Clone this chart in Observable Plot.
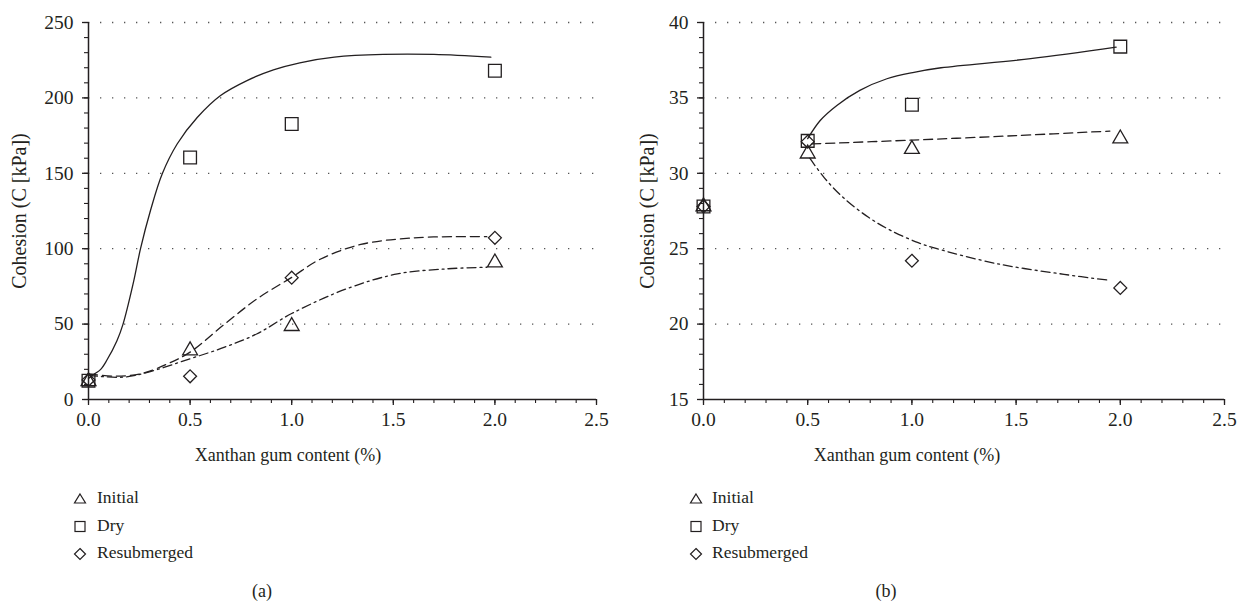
<!DOCTYPE html>
<html><head><meta charset="utf-8">
<script src="https://cdn.jsdelivr.net/npm/d3@7"></script>
<script src="https://cdn.jsdelivr.net/npm/@observablehq/plot@0.6"></script>
<style>
body{margin:0;background:#fff;font-family:"Liberation Serif","Times New Roman","DejaVu Serif",serif;color:#231f20;}
#wrap{position:relative;width:1245px;height:603px;overflow:hidden;background:#fff}
.panel{position:absolute;top:0}
.panel svg{display:block;overflow:visible}
.lbl{position:absolute;white-space:nowrap;font-size:18px;transform:translate(-50%,-50%);line-height:normal}
.ylbl{position:absolute;white-space:nowrap;font-size:20px;transform:translate(-50%,-50%) rotate(-90deg);line-height:normal}
.legtxt{position:absolute;white-space:nowrap;font-size:17.5px;line-height:normal}
.legsym{position:absolute;width:14px;height:14px}
</style></head>
<body><div id="wrap"></div>
<script>
// ---- data ----
const seriesNames = ["Initial", "Dry", "Resubmerged"];
const xContent = [0, 0.5, 1.0, 2.0];
const xTickLabels = [0, 0.5, 1.0, 1.5, 2.0, 2.5];

// panel (a)
const aInitial = [12, 32.5, 48.6, 90.8];
const aDry = [12.5, 160.5, 182.7, 218];
const aResub = [13, 15.4, 80.8, 107.2];
const aYTicks = [0, 50, 100, 150, 200, 250];
const aDryFitX = [0, 0.03, 0.06, 0.09, 0.14, 0.17, 0.22, 0.256, 0.305, 0.363, 0.437, 0.535, 0.65, 0.78, 0.91, 1.04, 1.21, 1.45, 1.7, 1.98];
const aDryFitY = [14, 17, 20, 26, 39, 50, 77, 100, 125.3, 149.7, 169.6, 187, 201.6, 211.5, 218.6, 223.3, 227, 228.8, 228.8, 227];
const aResubFitX = [0, 0.125, 0.256, 0.39, 0.5, 0.67, 0.83, 1.0, 1.14, 1.34, 1.6, 1.87, 1.96];
const aResubFitY = [17, 15.5, 17, 23.7, 31.4, 50, 66.8, 81, 93, 102.8, 107.2, 108, 108];
const aInitialFitX = [0, 0.17, 0.29, 0.5, 0.67, 0.83, 1.0, 1.27, 1.52, 1.77, 1.96];
const aInitialFitY = [16, 14.8, 18, 27, 34.7, 43.6, 57, 73.4, 83.3, 86.7, 87.7];

// panel (b)
const bInitial = [27.8, 31.3, 31.6, 32.3];
const bDry = [27.8, 32.15, 34.55, 38.4];
const bResub = [27.8, 32.1, 24.2, 22.4];
const bYTicks = [15, 20, 25, 30, 35, 40];
const bDryFitX = [0.5, 0.56, 0.64, 0.75, 0.88, 1.01, 1.14, 1.57, 1.98];
const bDryFitY = [32.3, 33.5, 34.5, 35.5, 36.27, 36.7, 37.0, 37.6, 38.36];
const bInitialFitX = [0.52, 1.0, 1.5, 1.95];
const bInitialFitY = [31.95, 32.2, 32.5, 32.8];
const bResubFitX = [0.51, 0.58, 0.67, 0.79, 0.9, 1.03, 1.12, 1.41, 1.73, 1.95];
const bResubFitY = [31.0, 29.7, 28.4, 27.1, 26.2, 25.4, 25.0, 24.0, 23.3, 22.9];

// ---- drawing ----
const ink = "#231f20";
const FONT = '"Liberation Serif", "Times New Roman", "DejaVu Serif", serif';
const zip = (xs, ys) => xs.map((x, i) => ({x, y: ys[i]}));
const DASH = "9,5", DASHDOT = "9,4,2,4";

function panel(o) {
  const [y0, y1] = o.yDomain;
  const yStep = (o.yMajor[1] - o.yMajor[0]) / 5;
  const dot = (vals, symbol, r) => Plot.dot(zip(xContent, vals), {x: "x", y: "y", symbol, r, stroke: ink, strokeWidth: 1.3, fill: "none"});
  const line = (fx, fy, dash) => Plot.line(zip(fx, fy), {x: "x", y: "y", curve: "catmull-rom", stroke: ink, strokeWidth: 1.3, strokeDasharray: dash});
  return Plot.plot({
    width: o.width, height: 440,
    marginTop: 22, marginBottom: 41, marginLeft: o.marginLeft, marginRight: o.marginRight,
    x: {domain: [0, 2.5]},
    y: {domain: o.yDomain},
    style: {fontFamily: FONT, fontSize: "19.5px", color: ink, background: "white"},
    marks: [
      Plot.ruleY(o.yMajor.slice(1), {x1: 0, x2: 2.5, stroke: "#555", strokeWidth: 1.3, strokeDasharray: "1.3,10.7"}),
      Plot.axisY({ticks: o.yMajor, tickSize: 6, tickPadding: 9, tickFormat: d3.format("d"), label: null, strokeWidth: 1.3, fontFamily: FONT}),
      Plot.axisY({ticks: d3.range(y0, y1 + 0.001, yStep), tickSize: 4, tickFormat: () => "", label: null, strokeWidth: 1.1}),
      Plot.axisX({ticks: xTickLabels, tickSize: 6, tickPadding: 7, tickFormat: d3.format(".1f"), label: null, strokeWidth: 1.3, fontFamily: FONT}),
      Plot.axisX({ticks: d3.range(0, 2.501, 0.1), tickSize: 4, tickFormat: () => "", label: null, strokeWidth: 1.1}),
      Plot.ruleX([0], {y1: y0, y2: y1, stroke: ink, strokeWidth: 1.5}),
      Plot.ruleY([y0], {x1: 0, x2: 2.5, stroke: ink, strokeWidth: 1.5}),
      ...o.fits.map(f => line(f[0], f[1], f[2])),
      dot(o.initial, "triangle2", 7.1),
      dot(o.dry, "square2", 8.1),
      dot(o.resub, "diamond2", 5.8)
    ]
  });
}

const wrap = document.getElementById("wrap");

function addPanel(left, width, opts) {
  const d = document.createElement("div");
  d.className = "panel";
  d.style.left = left + "px";
  d.appendChild(panel({width, ...opts}));
  wrap.appendChild(d);
}

addPanel(0, 620, {
  marginLeft: 88, marginRight: 24, yDomain: [0, 250], yMajor: aYTicks,
  initial: aInitial, dry: aDry, resub: aResub,
  fits: [[aDryFitX, aDryFitY, null], [aResubFitX, aResubFitY, DASH], [aInitialFitX, aInitialFitY, DASHDOT]]
});
addPanel(620, 625, {
  marginLeft: 83, marginRight: 21, yDomain: [15, 40], yMajor: bYTicks,
  initial: bInitial, dry: bDry, resub: bResub,
  fits: [[bDryFitX, bDryFitY, null], [bInitialFitX, bInitialFitY, DASH], [bResubFitX, bResubFitY, DASHDOT]]
});

function addText(cls, text, x, y) {
  const e = document.createElement("div");
  e.className = cls; e.textContent = text;
  e.style.left = x + "px"; e.style.top = y + "px";
  wrap.appendChild(e);
}
addText("ylbl", "Cohesion (C [kPa])", 19, 211);
addText("ylbl", "Cohesion (C [kPa])", 647, 211);
addText("lbl", "Xanthan gum content (%)", 288, 455);
addText("lbl", "Xanthan gum content (%)", 907, 455);
addText("lbl", "(a)", 262, 591);
addText("lbl", "(b)", 886, 591);

const legSymbols = {
  Initial: '<polygon points="7,2 12.5,11 1.5,11" fill="none" stroke="' + ink + '" stroke-width="1.2"/>',
  Dry: '<rect x="2" y="2.5" width="10" height="10" fill="none" stroke="' + ink + '" stroke-width="1.2"/>',
  Resubmerged: '<polygon points="7,1.5 12.5,7 7,12.5 1.5,7" fill="none" stroke="' + ink + '" stroke-width="1.2"/>'
};
const legRows = [497, 524.5, 552];
function addLegend(symX, textX) {
  seriesNames.forEach((name, i) => {
    const s = document.createElementNS("http://www.w3.org/2000/svg", "svg");
    s.setAttribute("class", "legsym");
    s.setAttribute("viewBox", "0 0 14 14");
    s.style.left = (symX - 7) + "px";
    s.style.top = (legRows[i] + 1.5 - 7) + "px";
    s.innerHTML = legSymbols[name];
    wrap.appendChild(s);
    const t = document.createElement("div");
    t.className = "legtxt"; t.textContent = name;
    t.style.left = textX + "px"; t.style.top = (legRows[i] - 9.8) + "px";
    wrap.appendChild(t);
  });
}
addLegend(79.5, 97);
addLegend(695.5, 712);
</script>
</body></html>
